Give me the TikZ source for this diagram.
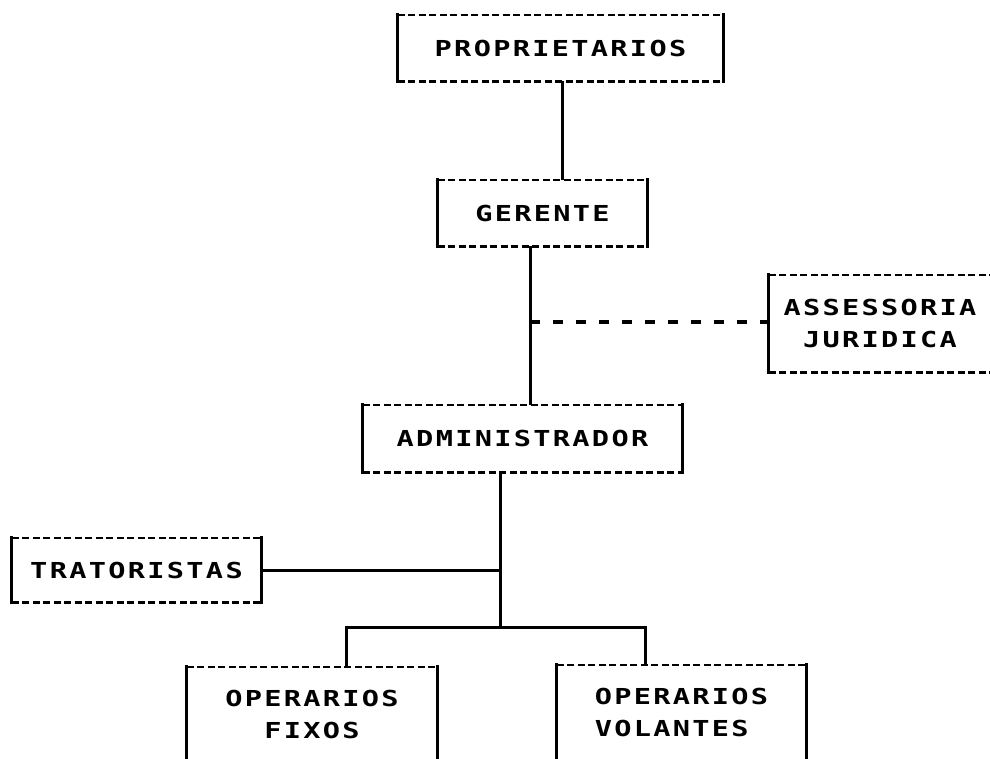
\documentclass[tikz,border=0pt]{standalone}
\usepackage{fontspec}
\newfontfamily\plotfont[FakeStretch=1.3,LetterSpace=10.5]{DejaVu Sans Mono Bold}
\tikzset{
  orgbox/.style={inner sep=0pt, font={\plotfont\fontsize{22pt}{32pt}\selectfont}, align=center},
  sideline/.style={line width=2.8pt, line cap=rect},
  dashline/.style={line width=2.6pt, dash pattern=on 7pt off 3.5pt},
  conn/.style={line width=3pt},
  dconn/.style={line width=3.2pt, dash pattern=on 10pt off 13pt},
}
\newcommand\fullbox[1]{%
  \draw[dashline] (#1.north west) -- (#1.north east) (#1.south west) -- (#1.south east);
  \draw[sideline] (#1.north west) -- (#1.south west) (#1.north east) -- (#1.south east);}
\newcommand\openbox[1]{%
  \draw[dashline] (#1.north west) -- (#1.north east);
  \draw[sideline] (#1.north west) -- (#1.south west) (#1.north east) -- (#1.south east);}
\begin{document}
\begin{tikzpicture}[x=1pt,y=-1pt]
\useasboundingbox (0,0) rectangle (990,758);
\clip (0,0) rectangle (990,758);
\fill[white] (0,0) rectangle (990,758);

\node[orgbox, minimum width=325pt, minimum height=66pt] (prop) at (560.5,48) {PROPRIETARIOS};
\node[orgbox, minimum width=209pt, minimum height=66pt] (ger) at (542.5,213) {GERENTE};
\node[orgbox, minimum width=222pt, minimum height=97pt] (ass) at (880,323.5) {ASSESSORIA\\JURIDICA};
\node[orgbox, minimum width=319pt, minimum height=67pt] (adm) at (522.5,438.5) {ADMINISTRADOR};
\node[orgbox, minimum width=249pt, minimum height=64pt] (trat) at (136.5,570) {TRATORISTAS};
\node[orgbox, minimum width=250pt, minimum height=94pt] (fix) at (312,714) {OPERARIOS\\FIXOS};
\node[orgbox, align=left, minimum width=249pt, minimum height=94pt] (vol) at (681.5,712) {OPERARIOS\\VOLANTES};

\fullbox{prop}
\fullbox{ger}
\fullbox{ass}
\fullbox{adm}
\fullbox{trat}
\openbox{fix}
\openbox{vol}

\coordinate (jA) at (530,322);
\coordinate (jT) at (500,571);
\coordinate (jB) at (500,627);

\draw[conn] ([xshift=1.5pt]prop.south) -- ([xshift=1.5pt]prop.south |- ger.north);
\draw[conn] ([xshift=-12.5pt]ger.south) -- ([xshift=-12.5pt]ger.south |- adm.north);
\draw[dconn] (jA) -- (jA -| ass.west);
\draw[conn] (adm.south -| jB) -- (jB);
\draw[conn] (trat.east) -- (trat.east -| jT);
\draw[conn] ([xshift=34pt]fix.north) |- (jB) -| ([xshift=-36.5pt]vol.north);
\end{tikzpicture}
\end{document}
